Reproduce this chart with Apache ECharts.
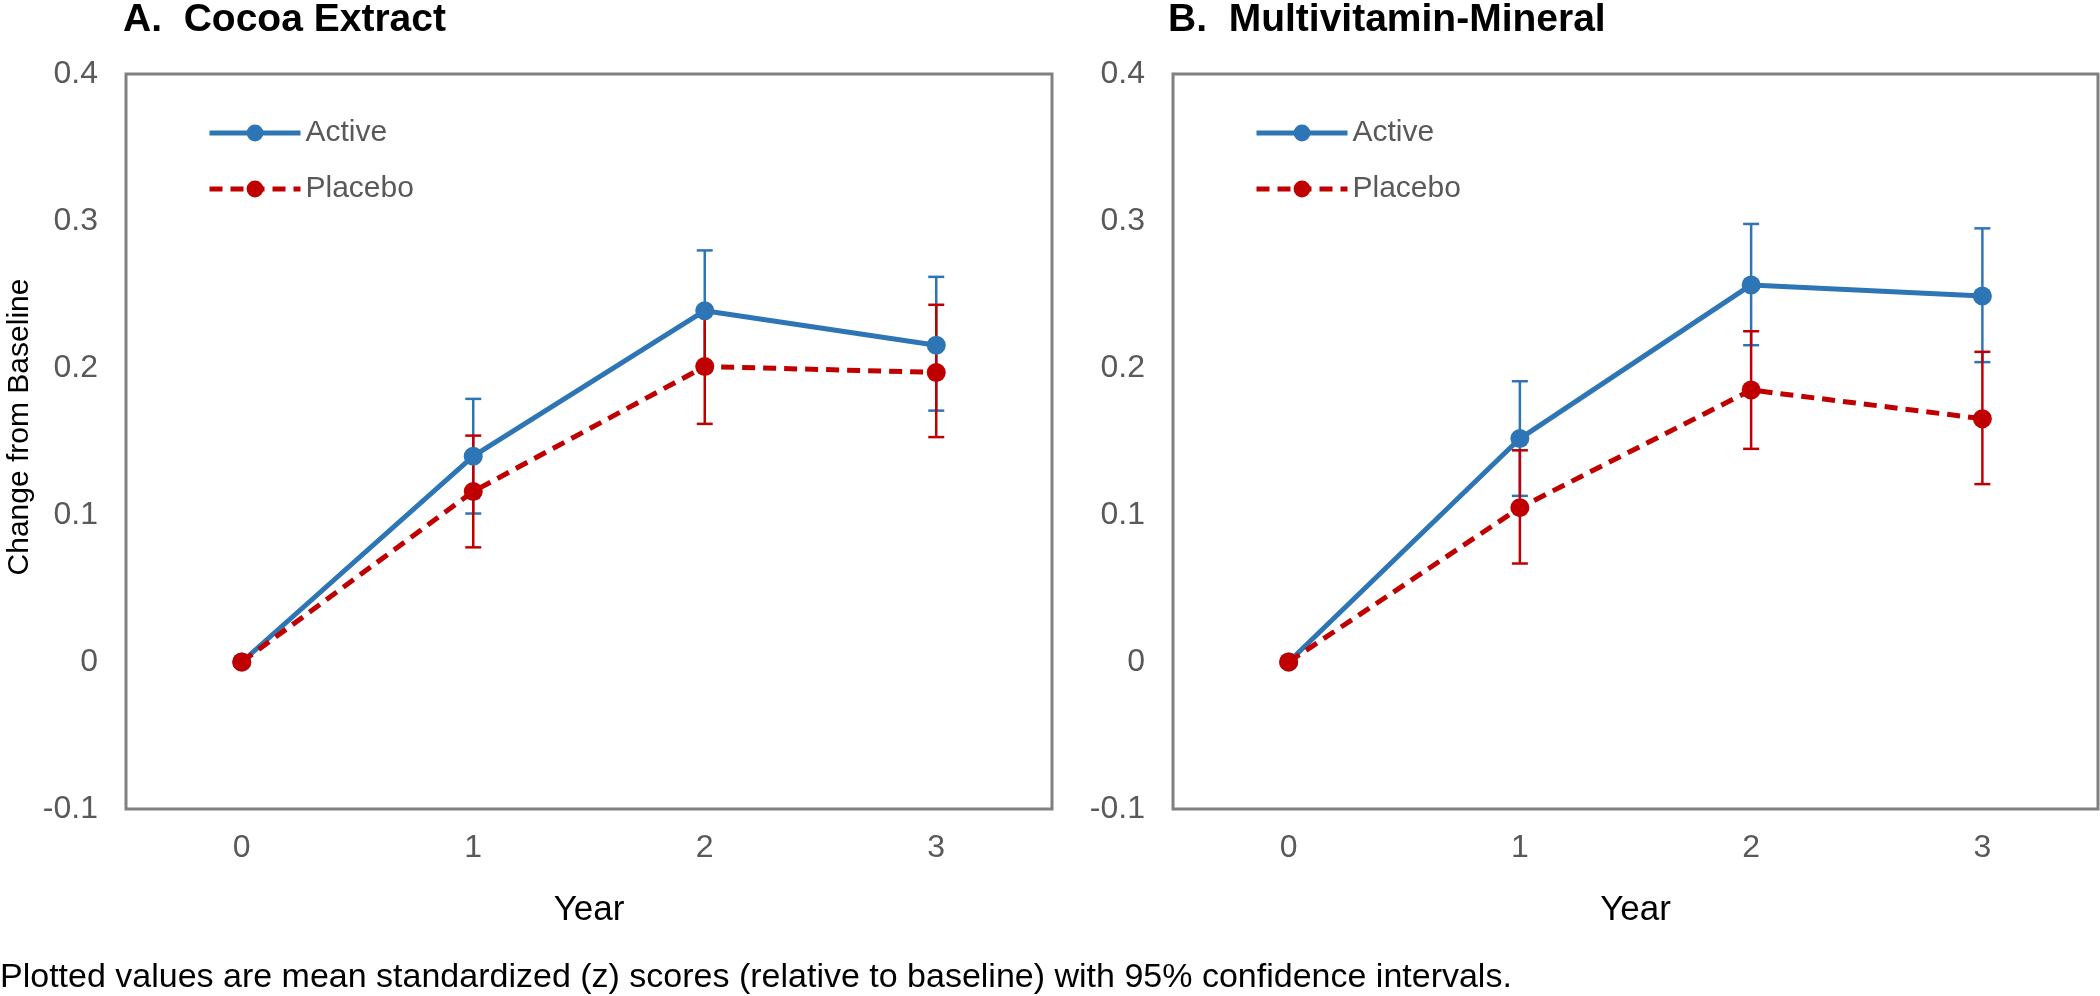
<!DOCTYPE html>
<html>
<head>
<meta charset="utf-8">
<script src="https://cdn.jsdelivr.net/npm/echarts@6/dist/echarts.min.js"></script>
<style>
html,body{margin:0;padding:0;background:#fff;}
#chart{width:2100px;height:996px;}
</style>
</head>
<body>
<div id="chart"></div>
<script>
// ---- data ----
const years = ['0', '1', '2', '3'];
const yTicks = [-0.1, 0, 0.1, 0.2, 0.3, 0.4];

const cocoaActive      = [0, 0.140, 0.239, 0.2155];
const cocoaActiveLow   = [0, 0.101, 0.198, 0.171];
const cocoaActiveHigh  = [0, 0.179, 0.280, 0.262];
const cocoaPlacebo     = [0, 0.116, 0.201, 0.197];
const cocoaPlaceboLow  = [0, 0.078, 0.162, 0.153];
const cocoaPlaceboHigh = [0, 0.154, 0.241, 0.243];

const mvmActive      = [0, 0.152, 0.2565, 0.249];
const mvmActiveLow   = [0, 0.113, 0.2155, 0.204];
const mvmActiveHigh  = [0, 0.191, 0.298, 0.295];
const mvmPlacebo     = [0, 0.105, 0.185, 0.1655];
const mvmPlaceboLow  = [0, 0.067, 0.145, 0.121];
const mvmPlaceboHigh = [0, 0.144, 0.225, 0.211];

const panelTitles = ['A.  Cocoa Extract', 'B.  Multivitamin-Mineral'];
const footnote = 'Plotted values are mean standardized (z) scores (relative to baseline) with 95% confidence intervals.';

// ---- styles ----
const BLUE = '#2E75B6';
const RED = '#C00000';
const GRAY_TXT = '#595959';
const FONT = '"Liberation Sans", Arial, sans-serif';

const chart = echarts.init(document.getElementById('chart'), null, {renderer: 'canvas'});

function errData(lo, hi) {
  const out = [];
  for (let i = 0; i < lo.length; i++) {
    if (hi[i] !== lo[i]) out.push([i, lo[i], hi[i]]);
  }
  return out;
}

function errSeries(idx, lo, hi, color) {
  return {
    type: 'custom',
    xAxisIndex: idx, yAxisIndex: idx,
    data: errData(lo, hi),
    encode: {x: 0, y: [1, 2]},
    silent: true,
    z: 2,
    renderItem: function (params, api) {
      const x = api.value(0);
      const p1 = api.coord([x, api.value(1)]);
      const p2 = api.coord([x, api.value(2)]);
      const hw = 8;
      const st = {stroke: color, lineWidth: 2.5};
      return {
        type: 'group',
        children: [
          {type: 'line', shape: {x1: p1[0], y1: p1[1], x2: p2[0], y2: p2[1]}, style: st},
          {type: 'line', shape: {x1: p1[0] - hw, y1: p1[1], x2: p1[0] + hw, y2: p1[1]}, style: st},
          {type: 'line', shape: {x1: p2[0] - hw, y1: p2[1], x2: p2[0] + hw, y2: p2[1]}, style: st}
        ]
      };
    }
  };
}

function lineSeries(idx, name, data, color, dashed) {
  return {
    type: 'line',
    name: name,
    xAxisIndex: idx, yAxisIndex: idx,
    data: data,
    symbol: 'circle',
    symbolSize: 19,
    z: dashed ? 4 : 3,
    itemStyle: {color: color},
    lineStyle: {color: color, width: 5, type: dashed ? [13, 8] : 'solid'},
    emphasis: {disabled: true},
    animation: false
  };
}

const grids = [
  {left: 126, top: 74, width: 926, height: 735},
  {left: 1173, top: 74, width: 925, height: 735}
];

const option = {
  animation: false,
  backgroundColor: '#fff',
  textStyle: {fontFamily: FONT},
  grid: grids.map(g => Object.assign({show: true, borderColor: '#808080', borderWidth: 3, backgroundColor: 'transparent'}, g)),
  xAxis: [0, 1].map(i => ({
    type: 'category',
    gridIndex: i,
    data: years,
    boundaryGap: true,
    axisLine: {show: false},
    axisTick: {show: false},
    axisLabel: {color: GRAY_TXT, fontSize: 32, fontFamily: FONT, margin: 23},
    name: 'Year',
    nameLocation: 'middle',
    nameGap: 84,
    nameTextStyle: {color: '#000', fontSize: 35, fontFamily: FONT},
    splitLine: {show: false}
  })),
  yAxis: [0, 1].map(i => ({
    type: 'value',
    gridIndex: i,
    min: yTicks[0],
    max: yTicks[yTicks.length - 1],
    interval: 0.1,
    axisLine: {show: false},
    axisTick: {show: false},
    splitLine: {show: false},
    axisLabel: {
      color: GRAY_TXT, fontSize: 32, fontFamily: FONT, margin: 28,
      formatter: v => String(Math.round(v * 10) / 10)
    }
  })),
  legend: [
    {left: 202, top: 113},
    {left: 1249, top: 113}
  ].map((p, i) => ({
    show: true,
    left: p.left, top: p.top,
    orient: 'vertical',
    data: ['Active', 'Placebo'],
    itemWidth: 91, itemHeight: 21,
    itemGap: 26,
    selectedMode: false,
    lineStyle: {width: 5},
    textStyle: {color: GRAY_TXT, fontSize: 30, fontFamily: FONT, padding: [0, 0, 0, 0]}
  })),
  graphic: [
    {type: 'text', left: 123, top: 1, style: {text: panelTitles[0], fill: '#000', font: 'bold 39px ' + FONT}},
    {type: 'text', left: 1168, top: 1, style: {text: panelTitles[1], fill: '#000', font: 'bold 39px ' + FONT}},
    {type: 'text', x: 20, y: 427, rotation: Math.PI / 2,
      style: {text: 'Change from Baseline', fill: '#000', font: '30px ' + FONT, align: 'center', verticalAlign: 'middle'}},
    {type: 'text', left: 0, top: 961, style: {text: footnote, fill: '#000', font: '34px ' + FONT}}
  ],
  series: [
    errSeries(0, cocoaActiveLow, cocoaActiveHigh, BLUE),
    errSeries(0, cocoaPlaceboLow, cocoaPlaceboHigh, RED),
    lineSeries(0, 'Active', cocoaActive, BLUE, false),
    lineSeries(0, 'Placebo', cocoaPlacebo, RED, true),
    errSeries(1, mvmActiveLow, mvmActiveHigh, BLUE),
    errSeries(1, mvmPlaceboLow, mvmPlaceboHigh, RED),
    lineSeries(1, 'Active', mvmActive, BLUE, false),
    lineSeries(1, 'Placebo', mvmPlacebo, RED, true)
  ]
};

chart.setOption(option);
</script>
</body>
</html>
